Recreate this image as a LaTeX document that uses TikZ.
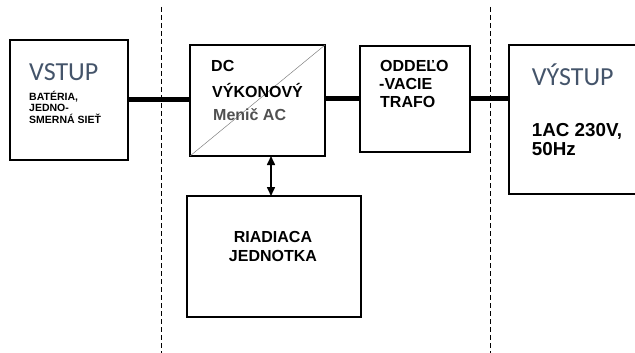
\documentclass[tikz,border=0pt]{standalone}
\usepackage{fontspec}
\setmainfont{Liberation Sans}
\newfontfamily\calib{Carlito}
\usetikzlibrary{arrows.meta}
\definecolor{vblue}{HTML}{44546A}
\definecolor{mgray}{HTML}{505050}
\begin{document}
\begin{tikzpicture}[x=1pt,y=-1pt,
  box/.style={draw, line width=1.6pt, inner sep=0pt, outer sep=0pt},
  conn/.style={line width=5pt},
  sep/.style={line width=0.8pt, dash pattern=on 5pt off 3pt},
  lbl/.style={anchor=base west, inner sep=0pt, font=\bfseries\fontsize{16}{18}\selectfont},
  small/.style={anchor=base west, inner sep=0pt, font=\bfseries\fontsize{10.5}{12}\selectfont},
  big/.style={anchor=base west, inner sep=0pt, text=vblue, font=\calib\fontsize{26}{30}\selectfont}]
\useasboundingbox (0,0) rectangle (635,353);
\clip (0,0) rectangle (635,353);
% separators
\coordinate (s1t) at (161,7);
\coordinate (s1b) at (161,353);
\coordinate (s2t) at (490,7);
\coordinate (s2b) at (490,353);
\draw[sep] (s1t) -- (s1b);
\draw[sep] (s2t) -- (s2b);
% boxes
\node[box, minimum width=118pt, minimum height=120pt] (vstup) at (69,100) {};
\node[box, minimum width=135pt, minimum height=111pt] (dc) at (257.5,100.5) {};
\node[box, minimum width=110pt, minimum height=106pt] (trafo) at (415,99) {};
\node[box, line width=2.2pt, minimum width=140pt, minimum height=149pt] (vystup) at (579,119.5) {};
\node[box, minimum width=174pt, minimum height=121pt] (riad) at (274,256.5) {};
\draw[gray, line width=0.5pt] (dc.south west) -- (dc.north east);
% connectors
\draw[conn] (vstup.east) -- (vstup.east -| dc.west);
\draw[conn] (dc.east |- trafo.west) -- (trafo.west);
\draw[conn] (trafo.east) -- (trafo.east -| vystup.west);
\coordinate (ar) at (271,0);
\draw[line width=1.6pt, {Triangle[length=9pt,width=8pt]}-{Triangle[length=9pt,width=8pt]}] (dc.south -| ar) -- (riad.north -| ar);
% texts
\node[big] (t1) at (29,80.7) {VSTUP};
\node[small] (t2) at (29,100) {BATÉRIA,};
\node[small] (t3) at (29,111.7) {JEDNO-};
\node[small] (t4) at (29,123.3) {SMERNÁ SIEŤ};
\node[lbl] (t5) at (211,72) {DC};
\node[lbl] (t6) at (212,97) {VÝKONOVÝ};
\node[lbl, text=mgray] (t7) at (213,121) {Menič AC};
\node[lbl] (t8) at (380,71.7) {ODDEĽO};
\node[lbl] (t9) at (379,90) {-VACIE};
\node[lbl] (t10) at (380,107) {TRAFO};
\node[big] (t11) at (531.7,86) {VÝSTUP};
\node[lbl, font=\bfseries\fontsize{18.8}{21}\selectfont] (t12) at (531.7,136.7) {1AC 230V,};
\node[lbl, font=\bfseries\fontsize{18.8}{21}\selectfont] (t13) at (531.7,155) {50Hz};
\node[lbl, anchor=base] (t14) at (273,242.7) {RIADIACA};
\node[lbl, anchor=base] (t15) at (273,261.7) {JEDNOTKA};
\end{tikzpicture}
\end{document}
